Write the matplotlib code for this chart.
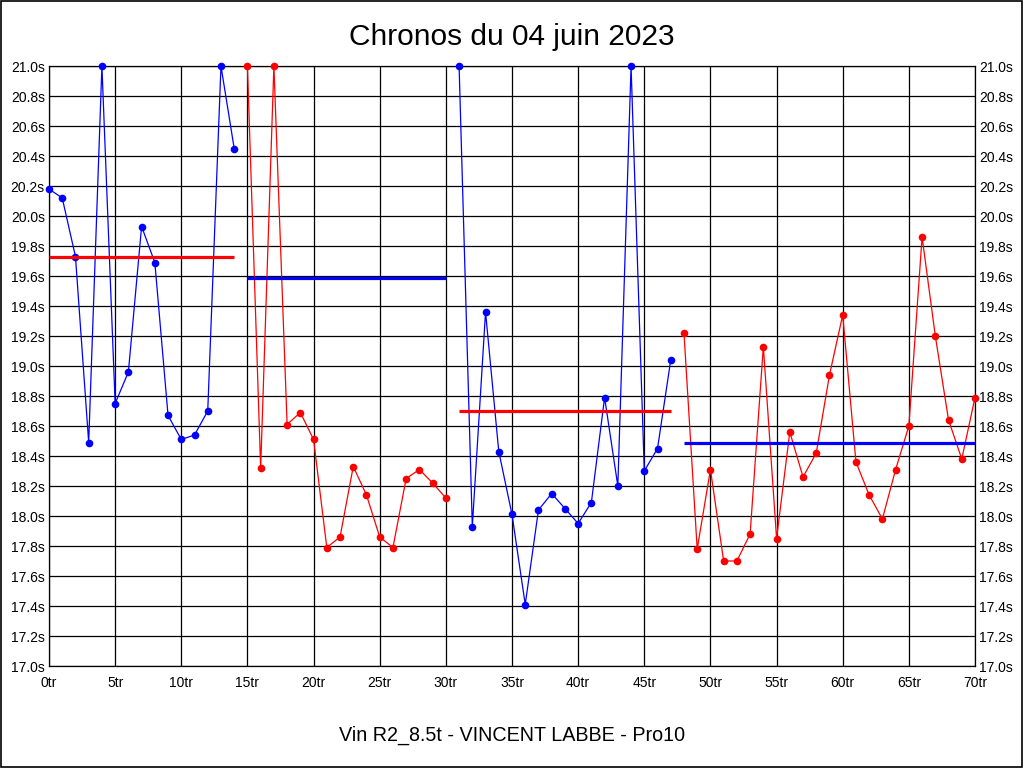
import matplotlib
matplotlib.use("Agg")
import matplotlib.pyplot as plt
from matplotlib.patches import Rectangle

plt.rcParams['font.family'] = ['Liberation Sans', 'DejaVu Sans']

# Data
laps_1 = list(range(0, 15))
times_1 = [20.18, 20.12, 19.73, 18.49, 21.0, 18.75, 18.96, 19.93, 19.69, 18.67,
           18.51, 18.54, 18.70, 21.0, 20.45]
laps_2 = list(range(15, 31))
times_2 = [21.0, 18.32, 21.0, 18.61, 18.69, 18.51, 17.79, 17.86, 18.33, 18.14,
           17.86, 17.79, 18.25, 18.31, 18.22, 18.12]
laps_3 = list(range(31, 48))
times_3 = [21.0, 17.93, 19.36, 18.43, 18.01, 17.41, 18.04, 18.15, 18.05, 17.95,
           18.09, 18.79, 18.20, 21.0, 18.30, 18.45, 19.04]
laps_4 = list(range(48, 71))
times_4 = [19.22, 17.78, 18.31, 17.70, 17.70, 17.88, 19.13, 17.85, 18.56, 18.26,
           18.42, 18.94, 19.34, 18.36, 18.14, 17.98, 18.31, 18.60, 19.86, 19.20,
           18.64, 18.38, 18.79]
averages = [19.73, 19.59, 18.70, 18.49]

series = [(laps_1, times_1, 'blue', 'red'),
          (laps_2, times_2, 'red', 'blue'),
          (laps_3, times_3, 'blue', 'red'),
          (laps_4, times_4, 'red', 'blue')]

x_ticks = list(range(0, 71, 5))
x_labels = [f"{v}tr" for v in x_ticks]
y_ticks = [17.0 + 0.2 * i for i in range(21)]
y_labels = [f"{v:.1f}s" for v in y_ticks]

title = "Chronos du 04 juin 2023"
subtitle = "Vin R2_8.5t - VINCENT LABBE - Pro10"

fig = plt.figure(figsize=(10.24, 7.68), dpi=100)
ax = fig.add_axes([49 / 1024, (768 - 666) / 768, (975 - 49) / 1024, (666 - 66) / 768])

for (lx, ty, col, avg_col), avg in zip(series, averages):
    ax.plot(lx, ty, color=col, linewidth=0.9, marker='o', markersize=5.5,
            markeredgewidth=0, zorder=3, clip_on=False)
    ax.plot([lx[0], lx[-1]], [avg, avg], color=avg_col, linewidth=2.3, zorder=4,
            solid_capstyle='butt')

ax.set_xlim(0, 70)
ax.set_ylim(17.0, 21.0)
ax.set_xticks(x_ticks)
ax.set_xticklabels(x_labels, fontsize=10)
ax.set_yticks(y_ticks)
ax.set_yticklabels(y_labels, fontsize=10)
ax.tick_params(axis='both', length=0)
ax.tick_params(axis='y', labelright=True, right=False, pad=3)
ax.tick_params(axis='x', pad=7.5)
ax.grid(True, color='black', linewidth=0.9)
ax.set_axisbelow(True)
for s in ax.spines.values():
    s.set_color('black')
    s.set_linewidth(0.9)

fig.text(0.5, 1 - 37 / 768, title, ha='center', va='center', fontsize=21.5)
fig.text(0.5, 1 - 735 / 768, subtitle, ha='center', va='center', fontsize=14.2)

fig.patches.append(Rectangle((0.0005, 0.0007), 0.998, 0.998, transform=fig.transFigure,
                             fill=False, edgecolor='black', linewidth=1.2))

fig.savefig('out.png', dpi=100)
